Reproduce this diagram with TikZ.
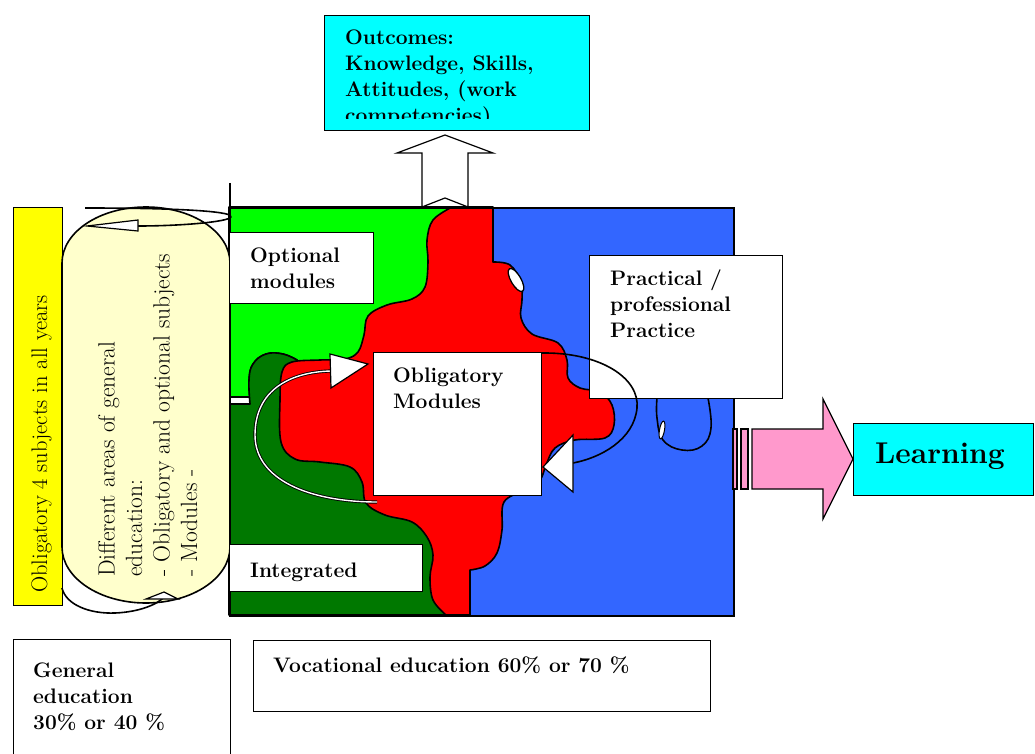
\documentclass[tikz,border=0pt]{standalone}
\usepackage{fontspec}
\definecolor{cyanbox}{RGB}{0,255,255}
\definecolor{lgreen}{RGB}{0,255,0}
\definecolor{dgreen}{RGB}{0,120,0}
\definecolor{redreg}{RGB}{255,0,0}
\definecolor{bluereg}{RGB}{51,102,255}
\definecolor{ybar}{RGB}{255,255,0}
\definecolor{cream}{RGB}{255,255,204}
\definecolor{pinkar}{RGB}{255,153,204}
\begin{document}
\begin{tikzpicture}[x=1pt,y=-1pt,
  box/.style={draw, line width=1.3, fill=white, inner sep=0, anchor=north west},
  lbl/.style={font=\bfseries\fontsize{21}{26}\selectfont, align=left, anchor=base west, inner sep=0},
  reg/.style={font=\fontsize{23.5}{27.5}\selectfont, align=left, anchor=base west, inner sep=0, rotate=90},
  edge/.style={line width=1.6, line join=round},
  tip/.style={draw, fill=white, line width=1.2}]
\useasboundingbox (0,0) rectangle (1035,754);

\node[box, fill=cyanbox, minimum width=265, minimum height=115] (outc) at (324,15) {};
\begin{scope}
\clip (324,15) rectangle (589,119);
\node[lbl] (outctxt) at (345,123) {Outcomes:\\Knowledge, Skills,\\Attitudes, (work\\competencies)};
\end{scope}
\draw[tip] (422,207) -- (422,153) -- (397,153) -- (445,135) -- (493,153) -- (468,153) -- (468,207) -- (445,198) -- cycle;
\draw[edge] (230,183) -- (230,207);

\fill[bluereg] (229,207) rectangle (733,615);
\fill[white] (229,397) rectangle (250,404);
\filldraw[fill=lgreen, edge] (229,397) -- (250,397) -- plot[smooth, tension=.7] coordinates {(250,397) (249,380) (253,364) (266,354) (283,354) (297,360)} -- (300,400) -- (460,400) -- (460,207) -- (229,207) -- cycle;
\filldraw[fill=dgreen, edge] (229,404) -- (250,404) -- plot[smooth, tension=.7] coordinates {(250,404) (249,380) (253,364) (266,354) (283,354) (297,360)} -- (320,380) -- (450,380) -- (450,615) -- (229,615) -- cycle;
\filldraw[fill=redreg, edge] (452,207) -- (493,207) -- (493,262) -- plot[smooth, tension=.6] coordinates {(493,262) (510,265) (521,282) (522,300) (521,318) (532,334) (558,343) (567,360) (568,378) (580,388) (600,392) (612,405) (614,425) (605,438) (575,440) (555,448) (546,465) (540,480) (525,490) (504,502) (502,530) (497,553) (485,566) (470,570)} -- (470,615) -- (446,615) -- plot[smooth, tension=.6] coordinates {(446,615) (433,600) (430,577) (433,555) (427,537) (412,522) (385,515) (366,503) (362,482) (350,467) (320,462) (295,459) (281,442) (280,400) (282,372) (292,362) (320,360) (345,359) (358,352) (364,335) (368,316) (387,305) (412,299) (425,287) (428,262) (427,240) (433,220) (452,207)} -- cycle;
\filldraw[fill=white, line width=1.3, rotate around={30:(516,280)}] (516,280) ellipse (5 and 13);
\draw[edge] plot[smooth, tension=.7] coordinates {(657,398) (657,418) (663,440) (682,450) (702,446) (711,428) (708,398)};
\filldraw[fill=white, line width=1, rotate around={-10:(662,430)}] (662,430) ellipse (2.5 and 9);
\node[draw, line width=1.6, minimum width=504, minimum height=408, anchor=north west, inner sep=0] (core) at (229,207) {};

\node[box, fill=ybar, minimum width=49, minimum height=398] (ybar) at (13,207) {};
\node[reg, font=\fontsize{22.5}{27}\selectfont] (ybartxt) at (47,593) {Obligatory 4 subjects in all years};
\filldraw[fill=cream, edge] (62,263) arc[start angle=180, end angle=360, x radius=84, y radius=56] -- (230,547) arc[start angle=0, end angle=180, x radius=84, y radius=56] -- cycle;
\node[reg] (capstxt) at (197,577) {Different areas of general\\education:\\- Obligatory and optional subjects\\- Modules -};
\draw[edge] (85,208) .. controls (190,208) and (234,212) .. (231,217) .. controls (228,222) and (180,226) .. (138,226);
\draw[tip] (138,220) -- (87,226) -- (138,231) -- cycle;
\draw[edge] (62,588) .. controls (66,605) and (90,614) .. (115,613) .. controls (140,612) and (158,604) .. (164,597);
\draw[tip] (146,599) -- (164,592) -- (178,599) -- cycle;

\node[box, minimum width=144, minimum height=71] (optm) at (229,232) {};
\node[lbl] (optmtxt) at (250,288) {Optional\\modules};
\node[box, minimum width=193, minimum height=47] (integ) at (229,544) {};
\node[lbl] (integtxt) at (250,577) {Integrated};
\node[box, minimum width=168, minimum height=143] (oblm) at (373,352) {};
\node[lbl] (oblmtxt) at (393,408) {Obligatory\\Modules};
\node[box, minimum width=193, minimum height=143] (prac) at (589,255) {};
\node[lbl] (practxt) at (610,337) {Practical /\\professional\\Practice};

\draw[double=white, double distance=1.4, line width=0.9] (377,502) .. controls (310,502) and (255,480) .. (255,435) .. controls (255,390) and (290,372) .. (331,371);
\draw[tip] (330,354) -- (368,364) -- (331,388) -- cycle;
\draw[edge] (541,353) .. controls (600,352) and (640,378) .. (637,408) .. controls (634,440) and (600,458) .. (573,463);
\draw[tip] (573,435) -- (543,467) -- (573,492) -- cycle;

\filldraw[fill=pinkar, line width=1.2] (733,429) rectangle (737,489);
\filldraw[fill=pinkar, line width=1.2] (741,429) rectangle (748,489);
\filldraw[fill=pinkar, line width=1.2] (752,429) -- (823,429) -- (823,399) -- (853,459) -- (823,519) -- (823,489) -- (752,489) -- cycle;
\node[box, fill=cyanbox, minimum width=180, minimum height=72] (learn) at (853,423) {};
\node[lbl, font=\bfseries\fontsize{30}{34}\selectfont] (learntxt) at (875,463) {Learning};

\node[box, minimum width=217, minimum height=130] (gened) at (13,639) {};
\node[lbl] (genedtxt) at (33,729) {General\\education\\30\% or 40 \%};
\node[box, minimum width=457, minimum height=71] (voced) at (253,640) {};
\node[lbl] (vocedtxt) at (273,672) {Vocational education 60\% or 70 \%};
\end{tikzpicture}
\end{document}
